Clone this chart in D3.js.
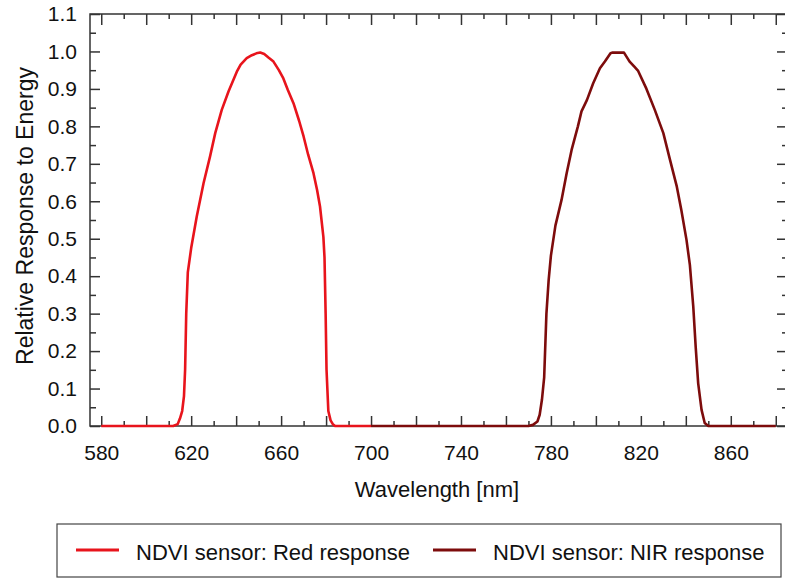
<!DOCTYPE html>
<html>
<head>
<meta charset="utf-8" />
<style>
body { margin: 0; background-color: #fff; }
#chart { width: 785px; height: 579px; }
text { font-family: "Liberation Sans", Arial, sans-serif; fill: #111; }
.axis path, .axis line { stroke: #333; stroke-width: 1.5; }
</style>
<title>NDVI sensor response</title>
</head>
<body>
<div id="chart"></div>
<script src="https://cdn.jsdelivr.net/npm/d3@7"></script>
<script>

// red band response
var redWl  = [580, 612, 614, 615, 616, 616.8, 617.3, 617.8, 618.5, 620, 622.5, 625.5, 628.4, 630.7, 633.6, 636.6,
              640.3, 642, 644.7, 647, 649, 650.7, 652.5, 654.5, 656.6, 659, 661, 663, 665.5, 668, 670, 672,
              674.4, 676, 677.3, 678.8, 679.3, 679.8, 680.2, 681, 682, 683, 684, 700];
var redVal = [0, 0, 0.005, 0.02, 0.04, 0.08, 0.15, 0.3, 0.41, 0.475, 0.56, 0.648, 0.72, 0.782, 0.844, 0.893,
              0.946, 0.965, 0.982, 0.99, 0.995, 0.997, 0.993, 0.983, 0.973, 0.95, 0.928, 0.897, 0.862, 0.815, 0.773, 0.725,
              0.675, 0.63, 0.586, 0.505, 0.45, 0.3, 0.15, 0.04, 0.015, 0.005, 0, 0];

// NIR band response
var nirWl  = [700, 770, 772, 774, 775, 776, 777, 778, 779, 780, 782, 784.7, 787, 789.2, 792, 793.6, 796, 798.8,
              801.8, 804, 806.5, 807.5, 812.5, 815, 817, 818.8, 822.5, 826.2, 830, 833, 836, 838, 840.3, 841.8,
              843.3, 844.4, 845.5, 847, 848.4, 850, 880];
var nirVal = [0, 0, 0.003, 0.012, 0.03, 0.07, 0.13, 0.3, 0.39, 0.455, 0.535, 0.603, 0.675, 0.737, 0.8, 0.84, 0.87, 0.915,
              0.955, 0.973, 0.995, 0.997, 0.997, 0.973, 0.96, 0.948, 0.9, 0.844, 0.782, 0.71, 0.639, 0.577, 0.497, 0.43,
              0.32, 0.21, 0.114, 0.043, 0.008, 0, 0];

var seriesNames  = ["NDVI sensor: Red response", "NDVI sensor: NIR response"];
var seriesColors = ["#e8141c", "#7d0c0c"];

var xMajor = d3.range(580, 881, 20);
var xMinor = d3.range(590, 881, 20);
var yMajor = d3.range(0, 12).map(function(i) { return i / 10; });
var yMinor = d3.range(0, 11).map(function(i) { return i / 10 + 0.05; });

var width = 785, height = 579;
var mLeft = 90, mRight = 787, mTop = 14, mBottom = 426;

var svg = d3.select("#chart").append("svg")
    .attr("width", width)
    .attr("height", height);

var x = d3.scaleLinear().domain([575, 885]).range([mLeft, mRight]);
var y = d3.scaleLinear().domain([0, 1.1]).range([mBottom, mTop]);

// frame
svg.append("rect")
    .attr("x", mLeft).attr("y", mTop)
    .attr("width", mRight - mLeft).attr("height", mBottom - mTop)
    .attr("fill", "none").attr("stroke", "#333").attr("stroke-width", 1.5);

// bottom axis, ticks pointing in
var bottomG = svg.append("g").attr("class", "axis")
    .attr("transform", "translate(0," + mBottom + ")");
bottomG.call(d3.axisBottom(x).tickValues(xMajor).tickSizeInner(-10).tickSizeOuter(0).tickPadding(19)
    .tickFormat(function(d) { return d % 40 === 20 ? d : ""; }));
bottomG.append("g").call(d3.axisBottom(x).tickValues(xMinor).tickSizeInner(-5).tickSizeOuter(0).tickFormat(""));

// top axis
var topG = svg.append("g").attr("class", "axis")
    .attr("transform", "translate(0," + mTop + ")");
topG.call(d3.axisTop(x).tickValues(xMajor).tickSizeInner(-11).tickSizeOuter(0).tickFormat(""));
topG.append("g").call(d3.axisTop(x).tickValues(xMinor).tickSizeInner(-5).tickSizeOuter(0).tickFormat(""));

// left axis
var leftG = svg.append("g").attr("class", "axis")
    .attr("transform", "translate(" + mLeft + ",0)");
leftG.call(d3.axisLeft(y).tickValues(yMajor).tickSizeInner(-10).tickSizeOuter(0).tickPadding(13)
    .tickFormat(d3.format(".1f")));
leftG.append("g").call(d3.axisLeft(y).tickValues(yMinor).tickSizeInner(-6).tickSizeOuter(0).tickFormat(""));

// right axis
var rightG = svg.append("g").attr("class", "axis")
    .attr("transform", "translate(" + mRight + ",0)");
rightG.call(d3.axisRight(y).tickValues(yMajor).tickSizeInner(-10).tickSizeOuter(0).tickFormat(""));
rightG.append("g").call(d3.axisRight(y).tickValues(yMinor).tickSizeInner(-5).tickSizeOuter(0).tickFormat(""));

svg.selectAll(".axis .domain").remove();
svg.selectAll(".axis text").attr("font-size", 21).attr("fill", "#111")
    .style("font-family", "'Liberation Sans', Arial, sans-serif");

// axis titles
svg.append("text")
    .attr("x", 437).attr("y", 497)
    .attr("text-anchor", "middle").attr("font-size", 22)
    .text("Wavelength [nm]");

svg.append("text")
    .attr("transform", "translate(33,216) rotate(-90)")
    .attr("text-anchor", "middle").attr("font-size", 23)
    .text("Relative Response to Energy");

// curves
var line = d3.line()
    .x(function(d) { return x(d[0]); })
    .y(function(d) { return y(d[1]); });

var series = [d3.zip(redWl, redVal), d3.zip(nirWl, nirVal)];

svg.selectAll(".curve").data(series).enter()
    .append("path")
    .attr("class", "curve")
    .attr("d", line)
    .attr("fill", "none")
    .attr("stroke", function(d, i) { return seriesColors[i]; })
    .attr("stroke-width", 2.6)
    .attr("stroke-linejoin", "round");

// legend
svg.append("rect")
    .attr("x", 57).attr("y", 524).attr("width", 724).attr("height", 53)
    .attr("fill", "#fff").attr("stroke", "#444").attr("stroke-width", 1.2);

var legendX = [76, 433];
var item = svg.selectAll(".legend").data(seriesNames).enter()
    .append("g").attr("class", "legend")
    .attr("transform", function(d, i) { return "translate(" + legendX[i] + ",550)"; });

item.append("line")
    .attr("x1", 0).attr("x2", 43)
    .attr("stroke", function(d, i) { return seriesColors[i]; })
    .attr("stroke-width", 3);

item.append("text")
    .attr("x", 60).attr("y", 10)
    .attr("font-size", 22)
    .text(function(d) { return d; });

</script>
</body>
</html>
